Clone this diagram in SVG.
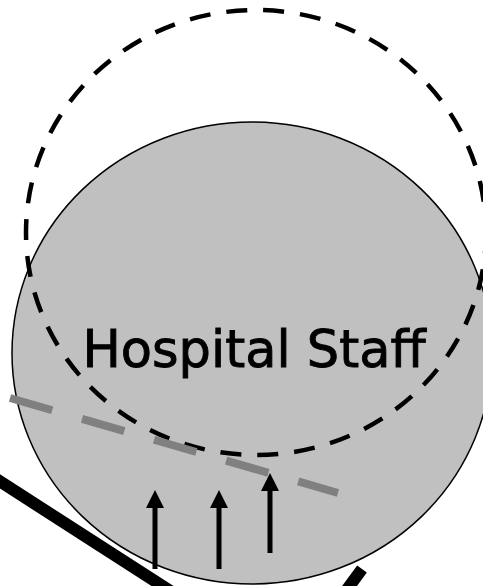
<svg xmlns="http://www.w3.org/2000/svg" width="483" height="586" viewBox="0 0 483 586">
<style>
.staff{fill:#c0c0c0;stroke:#000;stroke-width:1.5}
.label{font-family:"DejaVu Sans",sans-serif;font-size:51px;fill:#000;stroke:#000;stroke-width:0.9}
.boundary{fill:none;stroke:#000;stroke-width:4.5;stroke-dasharray:21 16}
.grayline{fill:none;stroke:#808080;stroke-width:8;stroke-dasharray:44 31}
.thick{fill:none;stroke:#000;stroke-width:12}
.arrow{stroke:#000;stroke-width:5;fill:none;marker-end:url(#head)}
</style>
<defs>
<marker id="head" markerUnits="userSpaceOnUse" markerWidth="18" markerHeight="18" refX="0" refY="9" orient="auto" viewBox="0 0 18 18">
<path d="M0,0 L18,9 L0,18 Z" fill="#000"/>
</marker>
</defs>
<g id="hospital-staff">
<ellipse class="staff" cx="252" cy="353" rx="240" ry="231"/>
<text class="label" x="254" y="367" text-anchor="middle">Hospital Staff</text>
</g>
<g id="boundary">
<ellipse class="boundary" cx="256" cy="232.5" rx="230" ry="222.5"/>
</g>
<g id="connectors">
<line class="grayline" x1="10" y1="398" x2="338" y2="493"/>
<line class="thick" x1="-10" y1="475" x2="175" y2="594"/>
<line class="thick" x1="362" y1="569" x2="340" y2="599"/>
<line class="arrow" x1="155" y1="569" x2="155" y2="508"/>
<line class="arrow" x1="219" y1="569" x2="219" y2="508"/>
<line class="arrow" x1="270" y1="553" x2="270" y2="491"/>
</g>
</svg>
